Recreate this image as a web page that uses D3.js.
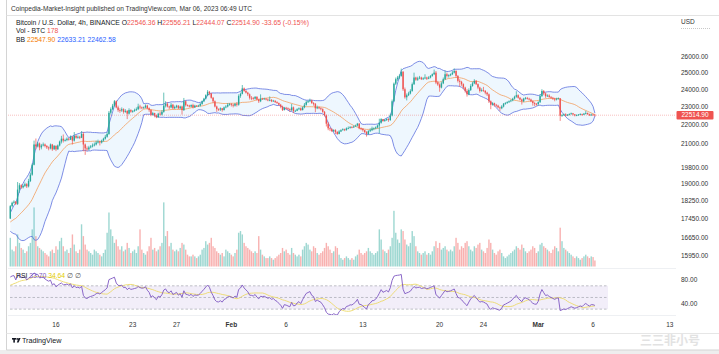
<!DOCTYPE html>
<html><head><meta charset="utf-8">
<script src="https://cdn.jsdelivr.net/npm/d3@7"></script>
<style>
body{margin:0;background:#fff;}
svg{display:block;font-family:"Liberation Sans",Arial,sans-serif;}
</style>
</head><body>
<svg id="c" width="719" height="354"></svg>
<script>
// ---------- DATA ----------
const startTime = Date.UTC(2023, 0, 11, 20); // first visible 4h candle
const stepMs = 4 * 3600 * 1000;
// closes before the first visible candle (indicator warm-up, off-screen)
const preCloses = [16850,16900,16950, 16940,16930,16920,16950,16940,16940, 16930,16920,16940,
  16950,16980,17100, 17200,17250,17230,17350,17240,17180, 17190,17210,17260,17250,17380,17440,
  17400,17370,17380,17350,17460];
const closes = [
 18000,
 18150,18200,18100,18750,18950,18850, 18920,19000,18900,19150,19450,19930,
 20950,20850,21000,20800,20900,20950, 20870,20800,20750,20950,20700,20880,
 20700,20900,21100,21250,21150,21180, 21250,21200,21350,21150,21400,21300,
 21350,21300,21500,20950,20750,20700, 20800,20850,20900,20950,21050,21100,
 21050,21150,21250,21350,21500,22650, 22850,23050,23300,22950,22800,22780,
 22850,22700,22750,22600,22800,22710, 22750,22800,22850,23000,22950,22920,
 22950,23050,22900,22800,22550,22630, 22500,22400,22600,22550,22700,23050,
 23150,23000,22950,23100,22900,22970, 23050,22900,23000,22800,23300,23080,
 23050,23000,23080,22950,23050,23030, 23050,23150,23300,23450,23650,23850,
 23750,23500,23300,23000,22850,22830, 22900,22800,22950,23000,23100,23130,
 23100,23050,23150,23100,23600,23730, 24050,23900,23800,23700,23500,23490,
 23450,23550,23400,23300,23450,23430, 23450,23400,23350,23380,23300,23330,
 23250,23200,23100,23000,22800,22930, 22900,22850,22800,22950,22750,22760,
 22850,22900,22800,22950,23100,23250, 23300,23350,23200,23150,22900,22960,
 22900,22850,22700,22500,22050,21800, 21750,21650,21700,21600,21500,21630,
 21700,21750,21700,21800,21820,21860, 21850,21900,21950,22050,21800,21780,
 21700,21600,21500,21650,21700,21790, 21800,21850,21950,22100,22300,22200,
 22250,22300,22250,22500,23300,24330, 24600,24700,24800,25050,24000,23530,
 23650,23750,23900,24300,24700,24570, 24650,24700,24600,24650,24700,24630,
 24700,24800,24900,25000,24400,24280, 24100,24350,24600,24900,24800,24840,
 24900,25000,25100,24800,24500,24440, 24300,24100,23900,23700,23950,24190,
 24350,24500,24300,24100,23900,23940, 23900,23800,23700,23300,23100,23190,
 23100,23050,22950,22900,23000,23160, 23200,23250,23300,23350,23450,23560,
 23650,23500,23400,23300,23450,23490, 23450,23400,23300,23200,23150,23140,
 23250,23600,23900,23750,23600,23630, 23550,23500,23450,23400,23450,23470,
 22480,22520,22560,22500,22540,22580, 22620,22560,22500,22520,22550,22580,
 22540,22600,22640,22570,22510,22550, 22546.36,22514.90];
const highs = [
 18050,
 18200,18260,18230,19100,19050,19000, 18980,19080,19050,19250,19550,20000,
 21150,21260,21080,21050,20980,21050, 21000,20920,20850,21000,20980,20920,
 20900,20950,21150,21400,21470,21250, 21320,21300,21420,21380,21600,21450,
 21420,21400,21650,21600,21000,20850, 20880,20920,21000,21050,21150,21200,
 21150,21200,21300,21450,21600,22750, 22950,23150,23370,23350,23050,22900,
 22950,22900,22850,22800,22900,22850, 22800,22880,22950,23160,23100,23000,
 23000,23120,23100,22950,22850,22700, 22650,22550,22650,22700,22800,23800,
 23300,23250,23050,23200,23150,23050, 23100,23080,23050,23050,23490,23350,
 23120,23100,23120,23160,23100,23080, 23100,23200,23350,23500,23700,23950,
 23900,23780,23550,23350,23050,22900, 22950,22920,23000,23080,23200,23200,
 23200,23150,23200,23250,23700,23800, 24250,24100,23950,23850,23750,23600,
 23550,23600,23600,23450,23700,23500, 23500,23480,23450,23580,23420,23380,
 23350,23300,23230,23150,23050,22980, 22980,22950,22900,23150,23000,22820,
 22900,22950,22950,23000,23200,23340, 23350,23450,23400,23250,23200,23050,
 23000,22950,22900,22750,22550,22150, 21850,21800,21750,21750,21650,21700,
 21750,21800,21780,21850,21900,21920, 21920,21950,22000,22090,22080,21850,
 21800,21720,21650,21700,21800,21890, 21850,21900,22000,22320,22350,22300,
 22300,22350,22350,22600,23400,24400, 24700,24800,24900,25250,25100,24100,
 23750,23850,24000,24400,25000,24750, 24750,24800,24750,24720,24900,24750,
 24780,24850,24950,25190,25100,24500, 24350,24450,24700,25120,25000,24900,
 24950,25100,25260,25150,24850,24600, 24500,24350,24150,24000,24050,24300,
 24450,24600,24550,24350,24150,24050, 24140,23950,23850,23750,23350,23250,
 23220,23150,23100,23000,23080,23200, 23250,23300,23350,23400,23500,23620,
 23880,23700,23550,23450,23500,23550, 23550,23500,23450,23350,23250,23200,
 23300,23700,24000,23950,23800,23700, 23700,23600,23550,23500,23500,23520,
 23480,22580,22600,22620,22580,22620, 22660,22640,22580,22560,22580,22620,
 22600,22640,22750,22660,22600,22600, 22580,22556.21];
const lows = [
 17440,
 17950,18100,18050,18050,18600,18780, 18800,18870,18820,18850,19100,19400,
 19900,20700,20800,20650,20700,20850, 20800,20720,20650,20700,20620,20680,
 20610,20680,20850,21000,21050,21100, 21120,21150,21180,20950,21100,21250,
 21250,21230,21280,20600,20420,20620, 20650,20750,20800,20850,20900,21000,
 20900,21000,21100,21200,21300,21450, 22550,22800,23000,22900,22700,22650,
 22700,22600,22650,22300,22550,22650, 22650,22700,22750,22800,22850,22850,
 22880,22900,22850,22700,22460,22500, 22400,22350,22380,22500,22500,22650,
 22950,22950,22850,22900,22850,22850, 22900,22850,22850,22550,22750,23000,
 23000,22950,22960,22890,22920,22980, 22980,23000,23100,23250,23400,23600,
 23650,23450,23200,22950,22700,22750, 22750,22710,22780,22900,22950,23050,
 23000,22950,23000,23000,23050,23500, 23700,23850,23750,23600,23400,23360,
 23380,23400,23350,23200,23250,23380, 23400,23350,23300,23300,23250,23280,
 23200,23150,23050,22900,22750,22780, 22850,22800,22700,22750,22630,22700,
 22740,22800,22750,22780,22900,23050, 23200,23250,23150,23050,22680,22850,
 22850,22780,22650,22450,21900,21700, 21650,21600,21600,21500,21450,21480,
 21600,21680,21650,21680,21750,21780, 21800,21820,21880,21900,21750,21700,
 21620,21550,21360,21450,21600,21650, 21700,21750,21800,21530,22050,22150,
 22150,22200,22150,22200,22450,23250, 24250,24500,24600,24750,23900,23450,
 23350,23600,23700,23850,24250,24500, 24500,24600,24550,24550,24600,24550,
 24600,24650,24750,24850,24300,24200, 23850,24050,24300,24550,24700,24700,
 24780,24850,24950,24700,24400,24150, 24200,24000,23800,23570,23650,23900,
 24150,24300,24250,24000,23800,23850, 23850,23700,23600,23200,22850,23050,
 23000,22980,22900,22750,22850,22950, 23100,23150,23200,23250,23300,23400,
 23500,23450,23350,23110,23250,23400, 23400,23350,23250,23050,23020,23050,
 23050,23200,23550,23650,23500,23550, 23500,23450,23380,23300,23350,23400,
 22200,22420,22480,22450,22470,22500, 22540,22500,22450,22460,22490,22520,
 22480,22520,22560,22540,22470,22480, 22500,22444.07];
const volumes = [
 850,
 500,450,600,950,700,550, 500,400,450,600,700,1100,
 1750,900,600,550,500,450, 400,350,300,450,500,400,
 600,500,750,850,600,450, 500,400,550,950,650,450,
 400,500,1250,900,650,500, 450,400,350,500,450,400,
 350,300,400,500,1000,1600, 1100,900,700,800,600,500,
 600,450,500,700,550,400, 450,500,400,600,1100,500,
 400,350,450,600,850,500, 550,450,500,600,700,1900,
 900,1050,600,700,500,450, 500,450,550,700,650,500,
 350,300,300,350,300,250, 300,350,500,550,750,650,
 700,850,600,550,450,400, 350,400,300,500,450,400,
 350,300,400,500,1000,1050, 950,700,600,550,500,450,
 400,450,400,900,500,350, 300,250,250,300,250,200,
 250,300,350,400,550,450, 500,400,350,550,400,350,
 300,350,300,500,600,700, 650,500,450,600,550,400,
 350,400,450,550,700,600, 500,400,450,600,550,350,
 250,200,250,300,250,200, 250,200,300,350,500,400,
 350,400,450,550,450,400, 350,400,450,1100,800,500,
 450,400,500,600,850,1650, 1000,800,700,1100,1050,800,
 650,600,700,1050,900,600, 450,400,350,400,450,350,
 400,350,450,600,750,550, 700,500,550,600,500,450,
 500,450,600,850,700,500, 600,550,700,750,600,500,
 450,600,550,650,700,500, 450,400,550,800,700,500,
 400,350,450,500,400,300, 250,300,350,400,450,500,
 600,550,500,650,550,450, 400,450,500,600,550,400,
 450,650,700,600,550,500, 450,400,500,600,550,450,
 1150,750,550,500,450,400, 350,300,250,300,250,200,
 250,300,350,300,250,300, 280,178];
const priceTicks = [26000,25000,24000,23000,22000,21000,19800,19000,18250,17450,16650,15950];
const rsiTicks = [80,40];
const rsiBands = [70,50,30];
const timeTicks = [
 {t:Date.UTC(2023,0,16), label:"16", bold:false},
 {t:Date.UTC(2023,0,23), label:"23", bold:false},
 {t:Date.UTC(2023,0,27), label:"27", bold:false},
 {t:Date.UTC(2023,1,1), label:"Feb", bold:true},
 {t:Date.UTC(2023,1,6), label:"6", bold:false},
 {t:Date.UTC(2023,1,13), label:"13", bold:false},
 {t:Date.UTC(2023,1,20), label:"20", bold:false},
 {t:Date.UTC(2023,1,24), label:"24", bold:false},
 {t:Date.UTC(2023,2,1), label:"Mar", bold:true},
 {t:Date.UTC(2023,2,6), label:"6", bold:false},
 {t:Date.UTC(2023,2,13), label:"13", bold:false}];
const headerText = "Coinpedia-Market-Insight published on TradingView.com, Mar 06, 2023 06:49 UTC";
const symbolText = "Bitcoin / U.S. Dollar, 4h, BINANCE";
const ohlcLabels = ["O","H","L","C"];
const ohlcValues = ["22546.36","22556.21","22444.07","22514.90"];
const changeText = "-33.65 (-0.15%)";
const volLegend = ["Vol - BTC", "178"];
const bbLegend = ["22547.90","22633.21","22462.58"];
const rsiLegend = ["33.70","34.64"];
const lastPriceLabel = "22514.90";

// ---------- COLORS ----------
const UP = "#26a69a", DOWN = "#ef5350";
const UPV = "rgba(38,166,154,0.45)", DOWNV = "rgba(239,83,80,0.45)";
const BBLINE = "#5468dc", BASIS = "#f39a55";

// ---------- SCALES ----------
const svg = d3.select("#c");
const x = d3.scaleUtc().domain([startTime, Date.UTC(2023,2,13)]).range([10.3, 669.8]);
const y = d3.scaleLog().domain([26000, 15950]).range([56.7, 255.3]);
const yv = d3.scaleLinear().domain([0, 2000]).range([266.5, 199]);
const yr = d3.scaleLinear().domain([80, 40]).range([280, 303.3]);

const N = closes.length, P = preCloses.length;
const all = preCloses.concat(closes);
const data = closes.map((c, i) => ({
  t: startTime + i * stepMs,
  o: i === 0 ? preCloses[P-1] : closes[i-1],
  c, h: highs[i], l: lows[i], v: volumes[i]
}));

// Bollinger (20, 2)
data.forEach((d, i) => {
  const w = all.slice(P + i - 19, P + i + 1);
  const m = d3.mean(w);
  const sd = Math.sqrt(d3.mean(w, v => (v - m) * (v - m)));
  d.bm = m; d.bu = m + 2 * sd; d.bl = m - 2 * sd;
});
// RSI 14 (Wilder) + SMA 14
const rsiAll = new Array(all.length).fill(null);
let ag = 0, al = 0;
for (let k = 1; k <= 14; k++) { const ch = all[k] - all[k-1]; if (ch > 0) ag += ch; else al -= ch; }
ag /= 14; al /= 14;
rsiAll[14] = al === 0 ? 100 : 100 - 100 / (1 + ag / al);
for (let k = 15; k < all.length; k++) {
  const ch = all[k] - all[k-1];
  ag = (ag * 13 + Math.max(ch, 0)) / 14;
  al = (al * 13 + Math.max(-ch, 0)) / 14;
  rsiAll[k] = al === 0 ? 100 : 100 - 100 / (1 + ag / al);
}
data.forEach((d, i) => {
  d.rsi = rsiAll[P + i];
  const w = rsiAll.slice(P + i - 13, P + i + 1);
  d.rma = w.every(v => v !== null) ? d3.mean(w) : null;
});

// ---------- FRAME ----------
svg.append("rect").attr("x",0).attr("y",0).attr("width",719).attr("height",354).attr("fill","#fff");
svg.append("rect").attr("x",0).attr("y",350).attr("width",719).attr("height",4).attr("fill","#eeeeee");
svg.append("line").attr("x1",6.5).attr("x2",6.5).attr("y1",0).attr("y2",350).attr("stroke","#d4d4d4");
svg.append("line").attr("x1",6.5).attr("x2",719).attr("y1",15.5).attr("y2",15.5).attr("stroke","#e3e3e3");
svg.append("line").attr("x1",6.5).attr("x2",719).attr("y1",333.5).attr("y2",333.5).attr("stroke","#e6e6e6");
svg.append("line").attr("x1",6.5).attr("x2",719).attr("y1",350).attr("y2",350).attr("stroke","#d4d4d4");
svg.append("line").attr("x1",8).attr("x2",676).attr("y1",268.5).attr("y2",268.5).attr("stroke","#eef0f3");
svg.append("line").attr("x1",8).attr("x2",676).attr("y1",315.5).attr("y2",315.5).attr("stroke","#eef0f3");

const defs = svg.append("defs");
defs.append("clipPath").attr("id","cp").append("rect").attr("x",8).attr("y",16).attr("width",668).attr("height",252);
defs.append("clipPath").attr("id","cr").append("rect").attr("x",8).attr("y",269).attr("width",668).attr("height",46);

// header
svg.append("text").attr("x",11).attr("y",10.5).attr("font-size",6.6).attr("fill","#333").text(headerText);

// ---------- PRICE PANE ----------
const gp = svg.append("g").attr("clip-path","url(#cp)");
// volume
gp.append("g").selectAll("rect").data(data).join("rect")
  .attr("x", d => x(d.t) - 0.7).attr("width", 1.4)
  .attr("y", d => yv(d.v)).attr("height", d => yv(0) - yv(d.v))
  .attr("fill", d => d.c >= d.o ? UPV : DOWNV);
// BB fill
gp.append("path").datum(data)
  .attr("d", d3.area().x(d => x(d.t)).y0(d => y(d.bl)).y1(d => y(d.bu)))
  .attr("fill","rgba(33,150,243,0.08)");
gp.append("path").datum(data).attr("fill","none").attr("stroke",BBLINE).attr("stroke-width",0.75)
  .attr("d", d3.line().x(d => x(d.t)).y(d => y(d.bu)));
gp.append("path").datum(data).attr("fill","none").attr("stroke",BBLINE).attr("stroke-width",0.75)
  .attr("d", d3.line().x(d => x(d.t)).y(d => y(d.bl)));
gp.append("path").datum(data).attr("fill","none").attr("stroke",BASIS).attr("stroke-width",0.75)
  .attr("d", d3.line().x(d => x(d.t)).y(d => y(d.bm)));
// last price line
gp.append("line").attr("x1",8).attr("x2",676).attr("y1",y(closes[N-1])).attr("y2",y(closes[N-1]))
  .attr("stroke","#ef5350").attr("stroke-width",0.6).attr("stroke-dasharray","1,1").attr("opacity",0.6);
// candles
const gc = gp.append("g");
gc.selectAll("line").data(data).join("line")
  .attr("x1", d => x(d.t)).attr("x2", d => x(d.t))
  .attr("y1", d => y(d.h)).attr("y2", d => y(d.l))
  .attr("stroke", d => d.c >= d.o ? UP : DOWN).attr("stroke-width", 0.7);
gc.selectAll("rect").data(data).join("rect")
  .attr("x", d => x(d.t) - 0.7).attr("width", 1.4)
  .attr("y", d => y(Math.max(d.o, d.c)))
  .attr("height", d => Math.max(0.8, Math.abs(y(d.o) - y(d.c))))
  .attr("fill", d => d.c >= d.o ? UP : DOWN);

// legend
const fs = 6.8;
const l1 = svg.append("text").attr("x",16).attr("y",24.5).attr("font-size",fs).attr("fill","#131722");
l1.append("tspan").text(symbolText + "  ");
ohlcLabels.forEach((lab, k) => {
  l1.append("tspan").attr("fill","#131722").text(lab);
  l1.append("tspan").attr("fill",DOWN).text(ohlcValues[k] + "  ");
});
l1.append("tspan").attr("fill",DOWN).text(changeText);
const l2 = svg.append("text").attr("x",16).attr("y",33).attr("font-size",fs).attr("fill","#131722");
l2.append("tspan").text(volLegend[0] + "  ");
l2.append("tspan").attr("fill",DOWN).text(volLegend[1]);
const l3 = svg.append("text").attr("x",16).attr("y",41.5).attr("font-size",fs).attr("fill","#131722");
l3.append("tspan").text("BB  ");
l3.append("tspan").attr("fill","#f57c00").text(bbLegend[0] + "  ");
l3.append("tspan").attr("fill","#2962ff").text(bbLegend[1] + "  ");
l3.append("tspan").attr("fill","#2962ff").text(bbLegend[2]);

// price axis
svg.append("text").attr("x",681).attr("y",23.5).attr("font-size",6.5).attr("fill","#333").text("USD");
svg.append("line").attr("x1",681).attr("x2",711).attr("y1",28.5).attr("y2",28.5)
  .attr("stroke","#c8c8c8").attr("stroke-dasharray","1,1");
svg.append("g").selectAll("text").data(priceTicks).join("text")
  .attr("x",681).attr("y", d => y(d)).attr("dy","0.35em").attr("font-size",6.5).attr("fill","#333")
  .text(d => d3.format(".2f")(d));
const ly = y(closes[N-1]);
svg.append("rect").attr("x",676.5).attr("y",ly-4.3).attr("width",37).attr("height",8.6).attr("rx",1).attr("fill","#ef5350");
svg.append("text").attr("x",695).attr("y",ly).attr("dy","0.35em").attr("text-anchor","middle")
  .attr("font-size",6.5).attr("fill","#fff").text(lastPriceLabel);

// ---------- RSI PANE ----------
const gr = svg.append("g").attr("clip-path","url(#cr)");
gr.append("rect").attr("x",10).attr("width",598).attr("y",yr(70)).attr("height",yr(30)-yr(70))
  .attr("fill","rgba(126,87,194,0.1)");
gr.selectAll("line.band").data(rsiBands).join("line").attr("class","band")
  .attr("x1",10).attr("x2",608).attr("y1",d => yr(d)).attr("y2",d => yr(d))
  .attr("stroke","#9598a1").attr("stroke-width",0.6).attr("stroke-dasharray","2.5,2");
gr.append("path").datum(data.filter(d => d.rma !== null)).attr("fill","none").attr("stroke","#ecd96a").attr("stroke-width",0.9)
  .attr("d", d3.line().x(d => x(d.t)).y(d => yr(d.rma)));
gr.append("path").datum(data).attr("fill","none").attr("stroke","#7e57c2").attr("stroke-width",0.9)
  .attr("d", d3.line().x(d => x(d.t)).y(d => yr(d.rsi)));
const lr = svg.append("text").attr("x",16).attr("y",277.5).attr("font-size",fs).attr("fill","#131722");
lr.append("tspan").text("RSI  ");
lr.append("tspan").attr("fill","#7e57c2").text(rsiLegend[0] + "  ");
lr.append("tspan").attr("fill","#e2cc00").text(rsiLegend[1] + "  ");
lr.append("tspan").attr("fill","#555").text("∅  ∅");
svg.append("g").selectAll("text").data(rsiTicks).join("text")
  .attr("x",681).attr("y", d => yr(d)).attr("dy","0.35em").attr("font-size",6.5).attr("fill","#333")
  .text(d => d3.format(".2f")(d));

// ---------- TIME AXIS ----------
svg.append("g").selectAll("text").data(timeTicks).join("text")
  .attr("x", d => x(d.t)).attr("y", 327).attr("text-anchor","middle").attr("font-size",6.5)
  .attr("font-weight", d => d.bold ? "bold" : "normal").attr("fill","#333").text(d => d.label);

// ---------- FOOTER ----------
const lg = svg.append("g").attr("transform","translate(12,338)");
lg.append("rect").attr("x",0).attr("y",0).attr("width",4).attr("height",1.6).attr("fill","#131722");
lg.append("rect").attr("x",1.3).attr("y",0).attr("width",1.6).attr("height",4.6).attr("fill","#131722");
lg.append("circle").attr("cx",5.2).attr("cy",0.9).attr("r",0.9).attr("fill","#131722");
lg.append("path").attr("d","M6.5,0 L8.6,0 L6.6,4.6 L4.8,4.6 Z").attr("fill","#131722");
svg.append("text").attr("x",22).attr("y",342.5).attr("font-size",7.2).attr("fill","#131722").text("TradingView");

// watermark
svg.append("text").attr("x",670).attr("y",345).attr("text-anchor","middle")
  .attr("font-family","'Noto Sans CJK SC'").attr("font-weight","bold").attr("font-size",12)
  .attr("fill","#dcdcdc").attr("opacity",0.8).text("三三非小号");
</script>
</body></html>
